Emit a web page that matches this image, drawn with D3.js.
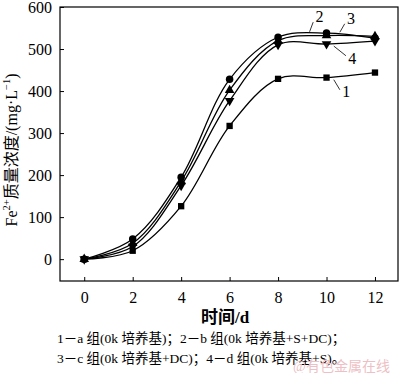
<!DOCTYPE html>
<html>
<head>
<meta charset="utf-8">
<script src="https://cdn.jsdelivr.net/npm/d3@7"></script>
<style>
  body { margin: 0; background: #fff; }
  svg { display: block; }
  text { font-family: "Liberation Serif", "Noto Sans CJK SC", serif; }
</style>
</head>
<body>
<svg width="400" height="373"></svg>
<script>
// Time points (d)
const days = [0, 2, 4, 6, 8, 10, 12];

// Fe2+ concentration (mg/L) for each group
const group1 = [0, 20, 126, 317, 429, 432, 444];   // a: 0k
const group2 = [0, 48, 195, 428, 528, 538, 526];   // b: 0k+S+DC
const group3 = [0, 38, 185, 402, 520, 532, 530];   // c: 0k+DC
const group4 = [0, 30, 175, 377, 510, 512, 519];   // d: 0k+S

const seriesNames = ["1", "2", "3", "4"];
const xTicks = [0, 2, 4, 6, 8, 10, 12];
const yTicks = [0, 100, 200, 300, 400, 500, 600];

const svg = d3.select("svg");
const margin = { top: 7, right: 2, bottom: 92, left: 60 };
const width = 400 - margin.left - margin.right;
const height = 373 - margin.top - margin.bottom;

const g = svg.append("g").attr("transform", `translate(${margin.left},${margin.top})`);

const x = d3.scaleLinear().domain([-1, 12.95]).range([0, width]);
const y = d3.scaleLinear().domain([-52, 600]).range([height, 0]);

// frame
g.append("rect")
  .attr("width", width).attr("height", height)
  .attr("fill", "none").attr("stroke", "#000").attr("stroke-width", 1.2);

// axes with inward ticks
const xAxis = g.append("g").attr("transform", `translate(0,${height})`)
  .call(d3.axisBottom(x).tickValues(xTicks).tickSize(-4).tickPadding(8));
const yAxis = g.append("g")
  .call(d3.axisLeft(y).tickValues(yTicks).tickSize(-4).tickPadding(8));

[xAxis, yAxis].forEach(a => {
  a.select(".domain").remove();
  a.selectAll("line").attr("stroke", "#000");
  a.selectAll("text").attr("font-size", 16).attr("fill", "#000")
    .attr("font-family", "'Liberation Serif', serif");
});
xAxis.selectAll("text").attr("dy", "0.9em");

const lineGen = d3.line()
  .x(d => x(d[0]))
  .y(d => y(d[1]))
  .curve(d3.curveCatmullRom.alpha(0.5));

const groups = [group1, group2, group3, group4];
const markers = [d3.symbolSquare, d3.symbolCircle, d3.symbolTriangle, "down"];

groups.forEach((vals, i) => {
  const pts = days.map((d, j) => [d, vals[j]]);
  g.append("path")
    .datum(pts)
    .attr("fill", "none")
    .attr("stroke", "#000")
    .attr("stroke-width", 1.3)
    .attr("d", lineGen);

  g.selectAll(".m" + i)
    .data(pts)
    .enter().append("path")
    .attr("class", "m" + i)
    .attr("transform", d => {
      const r = markers[i] === "down" ? " rotate(180)" : "";
      return `translate(${x(d[0])},${y(d[1])})${r}`;
    })
    .attr("d", d3.symbol()
      .type(markers[i] === "down" ? d3.symbolTriangle : markers[i])
      .size(markers[i] === d3.symbolCircle ? 44 : 40))
    .attr("fill", "#000");
});

// curve labels with leader lines (anchored in data units)
const labels = [
  { name: seriesNames[0], tx: 10.65, ty: 395, lx1: 10.55, ly1: 403, lx2: 10.3, ly2: 427 },
  { name: seriesNames[1], tx: 9.55, ty: 573, lx1: 9.45, ly1: 564, lx2: 9.3, ly2: 541 },
  { name: seriesNames[2], tx: 10.85, ty: 568, lx1: 10.75, ly1: 560, lx2: 10.55, ly2: 540 },
  { name: seriesNames[3], tx: 10.9, ty: 474, lx1: 10.8, ly1: 484, lx2: 10.3, ly2: 507 }
];
labels.forEach(l => {
  g.append("line")
    .attr("x1", x(l.lx1)).attr("y1", y(l.ly1))
    .attr("x2", x(l.lx2)).attr("y2", y(l.ly2))
    .attr("stroke", "#000").attr("stroke-width", 0.8);
  g.append("text")
    .attr("x", x(l.tx)).attr("y", y(l.ty))
    .attr("font-size", 16)
    .attr("dominant-baseline", "middle")
    .text(l.name);
});

// y axis title
svg.append("text")
  .attr("transform", `translate(13,150) rotate(-90)`)
  .attr("text-anchor", "middle")
  .attr("font-size", 16)
  .attr("dominant-baseline", "middle")
  .html('Fe<tspan baseline-shift="super" font-size="10.5">2+</tspan>质量浓度/(mg·L<tspan baseline-shift="super" font-size="10.5">−1</tspan>)');

// x axis title
svg.append("text")
  .attr("x", 225).attr("y", 323)
  .attr("text-anchor", "middle")
  .attr("font-size", 17)
  .attr("font-weight", "bold")
  .text("时间/d");

// legend notes
const notes = [
  "1－a 组(0k 培养基)；2－b 组(0k 培养基+S+DC)；",
  "3－c 组(0k 培养基+DC)；4－d 组(0k 培养基+S)。"
];
notes.forEach((t, i) => {
  svg.append("text")
    .attr("x", 57).attr("y", 343 + i * 20)
    .attr("font-size", 13.5)
    .text(t);
});

// watermark
svg.append("text")
  .attr("x", 293).attr("y", 371)
  .attr("font-size", 14)
  .attr("fill", "#eebfc4")
  .attr("font-family", "'Noto Sans CJK SC', sans-serif")
  .text("@有色金属在线");
</script>
</body>
</html>
